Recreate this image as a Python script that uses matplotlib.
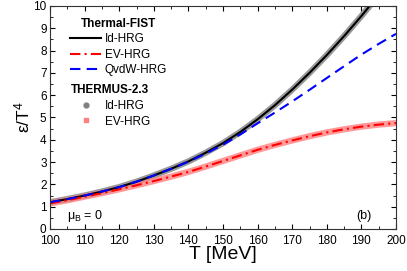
import numpy as np
import matplotlib
matplotlib.use('Agg')
from matplotlib.pyplot import *
from matplotlib.lines import Line2D

rc('font', family='Liberation Sans', size=8)
rc('mathtext', default='regular')
rc('xtick', direction='in', top=True)
rc('ytick', direction='in', right=True)

# temperature grid [MeV]
T = [100, 105, 110, 115, 120, 125, 130, 135, 140, 145, 150,
     155, 160, 165, 170, 175, 180, 185, 190, 195, 200]

# Thermal-FIST
id_hrg = [1.20, 1.34, 1.50, 1.68, 1.88, 2.12, 2.40, 2.70, 3.03, 3.42, 3.85,
          4.35, 4.92, 5.55, 6.25, 7.00, 7.80, 8.65, 9.55, 10.50, 11.45]
ev_hrg = [1.15, 1.29, 1.45, 1.61, 1.78, 1.96, 2.15, 2.35, 2.56, 2.80, 3.05,
          3.30, 3.55, 3.77, 3.97, 4.16, 4.33, 4.47, 4.59, 4.68, 4.75]
qvdw_hrg = [1.20, 1.34, 1.50, 1.68, 1.88, 2.12, 2.40, 2.70, 3.02, 3.38, 3.78,
            4.24, 4.74, 5.22, 5.72, 6.24, 6.77, 7.30, 7.82, 8.30, 8.75]

# THERMUS-2.3
thermus_id = [1.20, 1.34, 1.50, 1.68, 1.88, 2.12, 2.40, 2.70, 3.03, 3.42, 3.85,
              4.35, 4.92, 5.55, 6.25, 7.00, 7.80, 8.65, 9.55, 10.50, 11.45]
thermus_ev = [1.15, 1.29, 1.45, 1.61, 1.78, 1.96, 2.15, 2.35, 2.56, 2.80, 3.05,
              3.30, 3.55, 3.77, 3.97, 4.16, 4.33, 4.47, 4.59, 4.68, 4.75]

fig = figure(figsize=(4.07, 2.71), dpi=100)
ax = fig.add_axes([0.123, 0.155, 0.850, 0.823])

# THERMUS points drawn as dense bands underneath
ax.plot(T, thermus_id, color='#808080', lw=4.5, alpha=0.8, solid_capstyle='butt')
ax.plot(T, thermus_ev, color='#ff8080', lw=4.5, alpha=0.8, solid_capstyle='butt')

ax.plot(T, id_hrg, color='black', lw=1.5)
ax.plot(T, ev_hrg, color='red', lw=1.5, dashes=(5, 2, 1, 2))
ax.plot(T, qvdw_hrg, color='blue', lw=1.5, dashes=(5, 3))

ax.set_xlim(100, 200)
ax.set_ylim(0, 10)
ax.set_xticks(np.arange(100, 201, 10))
ax.set_yticks(np.arange(0, 11, 1))
ax.set_xticks(np.arange(100, 201, 5), minor=True)
ax.set_yticks(np.arange(0, 10.01, 0.5), minor=True)
ax.tick_params(which='major', length=3.5, width=0.8, labelsize=8.5)
ax.tick_params(axis='x', which='major', pad=4.5)
ax.tick_params(axis='y', which='major', pad=2.5)
ax.tick_params(which='minor', length=2, width=0.6)
for s in ax.spines.values():
    s.set_linewidth(0.8)
    s.set_color('#333333')

ax.set_xlabel('T [MeV]', fontsize=14, labelpad=-1)
ax.set_ylabel('ε/T$^4$', fontsize=12.5, labelpad=1)

ax.text(105, 0.45, 'μ$_B$ = 0', fontsize=9)
ax.text(188.5, 0.45, '(b)', fontsize=9)

h1 = [Line2D([], [], color='black', lw=1.5),
      Line2D([], [], color='red', lw=1.5, dashes=(5, 2, 1, 2)),
      Line2D([], [], color='blue', lw=1.5, dashes=(5, 3))]
leg1 = ax.legend(h1, ['Id-HRG', 'EV-HRG', 'QvdW-HRG'], title='Thermal-FIST',
                 loc='upper left', bbox_to_anchor=(0.035, 0.985), frameon=False,
                 fontsize=8.5, title_fontproperties={'weight': 'bold', 'size': 8.5},
                 handlelength=2.6, handletextpad=0.3, labelspacing=0.3, borderpad=0.2)
ax.add_artist(leg1)

h2 = [Line2D([], [], color='#808080', ls='none', marker='o', ms=3.5),
      Line2D([], [], color='#ff8080', ls='none', marker='s', ms=3.5)]
leg2 = ax.legend(h2, ['Id-HRG', 'EV-HRG'], title='THERMUS-2.3',
                 loc='upper left', bbox_to_anchor=(0.035, 0.685), frameon=False,
                 fontsize=8.5, title_fontproperties={'weight': 'bold', 'size': 8.5},
                 handlelength=2.6, handletextpad=0.3, labelspacing=0.3, borderpad=0.2)

savefig('out.png', dpi=100)
